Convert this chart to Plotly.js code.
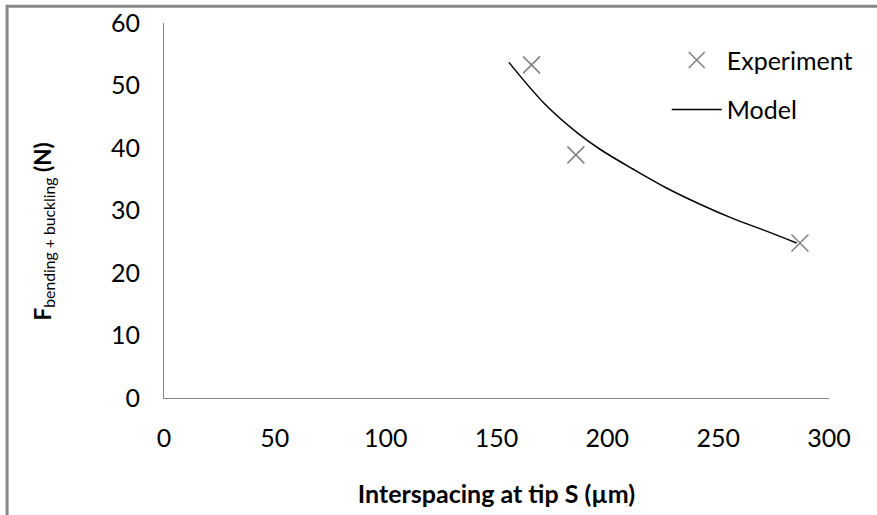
<!DOCTYPE html>
<html>
<head>
<meta charset="utf-8">
<script src="https://cdn.plot.ly/plotly-3.0.1.min.js"></script>
<style>html,body{margin:0;padding:0;background:#fff;}#chart{width:877px;height:515px;}</style>
</head>
<body>
<div id="chart"></div>
<script>
// Experiment points (interspacing S in µm, force in N)
var expS = [165.8, 185.8, 286.9];
var expF = [53.3, 38.9, 24.8];
// Model curve
var modelS = [155.6, 171.9, 186.9, 196.7, 211.7, 226.7, 241.8, 256.8, 271.8, 285.4];
var modelF = [53.7, 47.0, 42.3, 39.8, 36.6, 33.6, 31.0, 28.7, 26.7, 24.8];
var xTicks = [0, 50, 100, 150, 200, 250, 300];
var yTicks = [0, 10, 20, 30, 40, 50, 60];
var xTitle = '<b>Interspacing at tip S (\u00b5m)</b>';
var yTitle = '<b>F</b><sub>bending + buckling</sub><b> (N)</b>';

var fontFam = 'Lato, "Open Sans", sans-serif';
var traces = [
  {x: expS, y: expF, mode: 'markers', type: 'scatter', name: 'Experiment', legendgroup: 'a',
   marker: {symbol: 'x-thin-open', size: 17, color: '#808080', line: {color: '#808080', width: 1.5}}},
  {x: modelS, y: modelF, mode: 'lines', type: 'scatter', name: 'Model', legendgroup: 'b',
   line: {color: '#000000', width: 1.5, shape: 'spline', smoothing: 1}}
];
var layout = {
  width: 877, height: 515,
  margin: {l: 164, r: 48, t: 23, b: 117},
  paper_bgcolor: '#ffffff', plot_bgcolor: '#ffffff',
  font: {family: fontFam, color: '#000000', size: 22},
  showlegend: true,
  legend: {x: 0.756, y: 0.962, xanchor: 'left', yanchor: 'top', traceorder: 'grouped', tracegroupgap: 14,
           itemwidth: 50, font: {family: fontFam, size: 25, color: '#000'}, bgcolor: 'rgba(0,0,0,0)'},
  xaxis: {range: [0, 300], tickvals: xTicks, ticktext: xTicks.map(String), showgrid: false, zeroline: false,
          showline: true, linecolor: '#868686', linewidth: 1, ticks: 'outside', ticklen: 18, tickcolor: 'rgba(0,0,0,0)',
          tickfont: {family: fontFam, size: 25}, fixedrange: true,
          title: {text: xTitle, font: {family: fontFam, size: 25}, standoff: 34}},
  yaxis: {range: [0, 60], tickvals: yTicks, ticktext: yTicks.map(String), showgrid: false, zeroline: false,
          showline: true, linecolor: '#868686', linewidth: 1, ticks: 'outside', ticklen: 18, tickcolor: 'rgba(0,0,0,0)',
          tickfont: {family: fontFam, size: 25}, fixedrange: true},
  annotations: [
    {text: yTitle, xref: 'paper', yref: 'paper', x: -0.181, y: 0.443, xanchor: 'center', yanchor: 'middle',
     textangle: -90, showarrow: false, font: {family: fontFam, size: 22.5, color: '#000'}}
  ],
  shapes: [
    {type: 'rect', xref: 'paper', yref: 'paper', x0: -0.236, x1: 1.3, y0: -0.5, y1: 1.045,
     line: {color: '#888888', width: 3}, fillcolor: 'rgba(0,0,0,0)', layer: 'below'}
  ]
};
Plotly.newPlot('chart', traces, layout, {displayModeBar: false, staticPlot: true});
</script>
</body>
</html>
